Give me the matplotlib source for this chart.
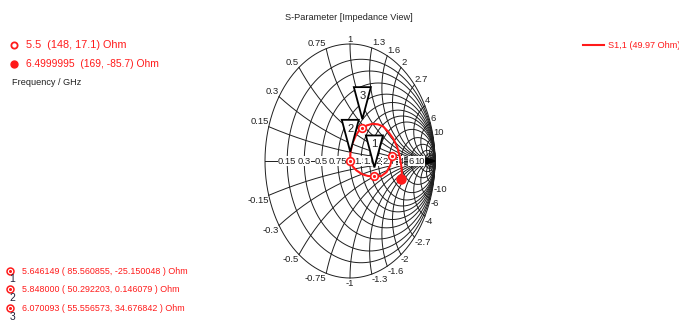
import numpy as np
import matplotlib
matplotlib.use('Agg')
import matplotlib.pyplot as plt
from matplotlib.patches import Polygon

plt.rcParams['font.family'] = ['Liberation Sans', 'DejaVu Sans']

# ---------------- data ----------------
Z0 = 49.97
start_freq, start_R, start_X = 5.5, 148, 17.1
end_freq, end_R, end_X = 6.4999995, 169, -85.7

marker_names = ['1', '2', '3']
marker_freq = [5.646149, 5.848000, 6.070093]
marker_R = [85.560855, 50.292203, 55.556573]
marker_X = [-25.150048, 0.146079, 34.676842]

# S11 trace (reflection coefficient) between the points above
seg1_re = [0.475, 0.43, 0.37]
seg1_im = [-0.035, -0.095, -0.128]
seg2_re = [0.21, 0.14, 0.075, 0.03]
seg2_im = [-0.128, -0.112, -0.08, -0.045]
seg3_re = [0.005, 0.025, 0.07, 0.105]
seg3_im = [0.07, 0.145, 0.22, 0.258]
seg4_re = [0.2, 0.265, 0.33, 0.39, 0.45, 0.51, 0.555, 0.585, 0.603, 0.61]
seg4_im = [0.305, 0.318, 0.313, 0.295, 0.25, 0.19, 0.12, 0.04, -0.04, -0.10]

grid_values = [0.15, 0.3, 0.5, 0.75, 1, 1.3, 1.6, 2, 2.7, 4, 6, 10]
grid_labels = ['0.15', '0.3', '0.5', '0.75', '1', '1.3', '1.6', '2', '2.7', '4', '6', '10']
extra_grid = [15, 20, 30, 50]

RED = '#ff1a1a'
GRID = '#1e1e1e'


def gamma(R, X):
    z = complex(R, X) / Z0
    return (z - 1) / (z + 1)


g_start = gamma(start_R, start_X)
g_end = gamma(end_R, end_X)
g_mk = [gamma(r, x) for r, x in zip(marker_R, marker_X)]

curve_re = ([g_start.real] + seg1_re + [g_mk[0].real] + seg2_re + [g_mk[1].real]
            + seg3_re + [g_mk[2].real] + seg4_re + [g_end.real])
curve_im = ([g_start.imag] + seg1_im + [g_mk[0].imag] + seg2_im + [g_mk[1].imag]
            + seg3_im + [g_mk[2].imag] + seg4_im + [g_end.imag])

# ---------------- figure ----------------
W, H = 679, 322
fig = plt.figure(figsize=(W / 100, H / 100), dpi=100)
ov = fig.add_axes([0, 0, 1, 1])
ov.set_xlim(0, W)
ov.set_ylim(H, 0)
ov.axis('off')

cx, cy, rx, ry = 350, 161, 85, 117
ax = fig.add_axes([(cx - rx) / W, (H - cy - ry) / H, 2 * rx / W, 2 * ry / H])
ax.set_xlim(-1, 1)
ax.set_ylim(-1, 1)
ax.axis('off')
px = 2 / (2 * rx)
py = 2 / (2 * ry)

lw = 0.7
t = np.linspace(0, 2 * np.pi, 600)
# boundary
ax.plot(np.cos(t), np.sin(t), color=GRID, lw=lw, clip_on=False)
ax.plot([-1, 1], [0, 0], color=GRID, lw=lw, clip_on=False)
for r in grid_values + extra_grid:
    c, rad = r / (1 + r), 1 / (1 + r)
    ax.plot(c + rad * np.cos(t), rad * np.sin(t), color=GRID, lw=lw, clip_on=False)
rr = np.concatenate([[0], np.logspace(-3, 4, 800)])
for x in grid_values + extra_grid:
    for s in (1, -1):
        g = (rr + 1j * s * x - 1) / (rr + 1j * s * x + 1)
        ax.plot(g.real, g.imag, color=GRID, lw=lw, clip_on=False)

ax.add_patch(Polygon([(1 - 9 * px, 3 * py), (1, 0), (1 - 9 * px, -3 * py)],
                     closed=True, color='black', clip_on=False, zorder=3))

fs = 6.8
# real-axis labels
for r, lab in zip(grid_values, grid_labels):
    u = (r - 1) / (r + 1)
    ax.text(u, 0, lab, ha='center', va='center', fontsize=fs, color='#222222',
            bbox=dict(facecolor='white', edgecolor='none', pad=0.3), zorder=4, clip_on=False)

# reactance labels
for x, lab in zip(grid_values, grid_labels):
    for s in (1, -1):
        gu = (x * x - 1) / (x * x + 1)
        gv = s * 2 * x / (x * x + 1)
        if abs(gu) < 0.02:
            ha = 'center'
        elif gu > 0:
            ha = 'left'
        else:
            ha = 'right'
        va = 'bottom' if s > 0 else 'top'
        ax.text(gu, gv + s * 0.5 * py, lab if s > 0 else '-' + lab, ha=ha, va=va,
                fontsize=fs, color='#222222', clip_on=False, zorder=4)

# trace
ax.plot(curve_re, curve_im, color=RED, lw=1.5, clip_on=False, zorder=5)
for g in [g_start] + g_mk:
    ax.plot(g.real, g.imag, 'o', ms=5.5, mfc='white', mec=RED, mew=1.2, zorder=6, clip_on=False)
    ax.plot(g.real, g.imag, 'o', ms=1.3, color=RED, zorder=7, clip_on=False)
ax.plot(g_end.real, g_end.imag, 'o', ms=6.5, color=RED, zorder=6, clip_on=False)

# marker flags
for g, name in zip(g_mk, marker_names):
    mx, my = g.real, g.imag
    tri = [(mx, my + 9 * py), (mx - 8.5 * px, my + 41 * py), (mx + 8.5 * px, my + 41 * py)]
    ax.add_patch(Polygon(tri, closed=True, facecolor='white', edgecolor='black',
                         lw=1.3, zorder=8, clip_on=False))
    ax.text(mx, my + 32 * py, name, ha='center', va='center', fontsize=8,
            color='#222222', zorder=9, clip_on=False)

# ---------------- texts ----------------
ov.text(349, 17, 'S-Parameter [Impedance View]', ha='center', va='center',
        fontsize=6.6, color='#222222')

ov.plot(14, 45, 'o', ms=4.5, mfc='white', mec=RED, mew=1.3)
ov.text(26, 45, '%g  (%g, %g) Ohm' % (start_freq, start_R, start_X), ha='left',
        va='center', fontsize=7.8, color=RED)
ov.plot(14, 63.5, 'o', ms=5, color=RED)
ov.text(26, 63.5, '%s  (%g, %g) Ohm' % ('6.4999995', end_R, end_X), ha='left',
        va='center', fontsize=7.4, color=RED)
ov.text(12.5, 82, 'Frequency / GHz', ha='left', va='center', fontsize=6.6, color='#222222')

ov.plot([583, 604], [45, 45], color=RED, lw=1.5)
ov.text(608, 45, 'S1,1 (%.2f Ohm)' % Z0, ha='left', va='center', fontsize=6.6, color=RED)

rows_y = [271.5, 290, 308.5]
for yy, name, f, R, X in zip(rows_y, marker_names, marker_freq, marker_R, marker_X):
    ov.plot(10, yy - 1, 'o', ms=5, mfc='white', mec=RED, mew=1.1)
    ov.plot(10, yy - 1, 'o', ms=1.2, color=RED)
    ov.text(12.5, yy + 8, name, ha='center', va='center', fontsize=7.5, color='#20203a')
    ov.text(22, yy, '%.6f ( %.6f, %.6f ) Ohm' % (f, R, X), ha='left', va='center',
            fontsize=6.4, color=RED)

fig.savefig('out.png', dpi=100)
